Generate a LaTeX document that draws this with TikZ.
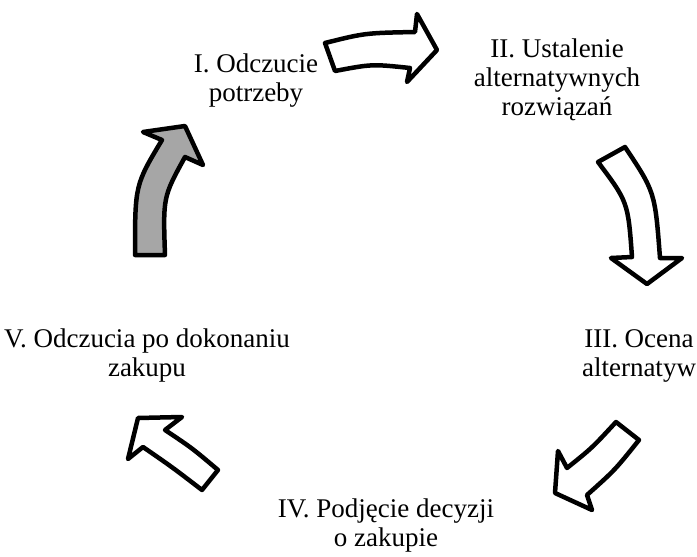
\documentclass[tikz,border=0pt]{standalone}
\usepackage{fontspec}
\setmainfont{Liberation Serif}
\usepackage{tikz}
\usetikzlibrary{positioning}

\tikzset{
  etap/.style={align=center, inner sep=0pt, font=\fontsize{27}{29}\selectfont},
  blokstrzalka/.style={draw, line width=4.5pt, line join=round, fill=white},
}

\begin{document}
\begin{tikzpicture}[x=1pt, y=-1pt]
\useasboundingbox (0,0) rectangle (697,557);
% Etapy procesu zakupu
\node[etap] (odczucie) at (256,81) {I. Odczucie\\potrzeby};
\node[etap] (ustalenie) at (557,80) {II. Ustalenie\\alternatywnych\\rozwiązań};
\node[etap] (ocena) at (639,356) {III. Ocena\\alternatyw};
\node[etap] (decyzja) at (386,526) {IV. Podjęcie decyzji\\o zakupie};
\node[etap] (odczucia) at (147,356) {V. Odczucia po dokonaniu\\zakupu};
% I -> II
\draw[blokstrzalka] (325,43) .. controls (365,33) .. (415,32) -- (417,14) -- (437,50)
  -- (407,82) -- (410,68) .. controls (372,64) .. (335,71) -- cycle;
% II -> III
\draw[blokstrzalka] (598,162) -- (625,147) .. controls (655,192) .. (660,258) -- (682,258)
  -- (647,284) -- (611,258) -- (632,257) .. controls (628,202) .. (598,162) -- cycle;
% III -> IV
\draw[blokstrzalka] (616,422) -- (639,440) .. controls (615,470) .. (587,495) -- (592,510)
  -- (555,493) -- (558,451) -- (567,468) .. controls (592,448) .. (616,422) -- cycle;
% IV -> V
\draw[blokstrzalka] (218,470) -- (202,490) .. controls (172,467) .. (143,447) -- (128,459)
  -- (138,418) -- (182,417) -- (165,430) .. controls (192,448) .. (218,470) -- cycle;
% V -> I (szara)
\draw[blokstrzalka, fill=black!35] (135,255) -- (165,255) .. controls (163,197) .. (185,157)
  -- (203,165) -- (185,126) -- (143,132) -- (162,140) .. controls (135,185) .. (135,255) -- cycle;
\end{tikzpicture}
\end{document}
